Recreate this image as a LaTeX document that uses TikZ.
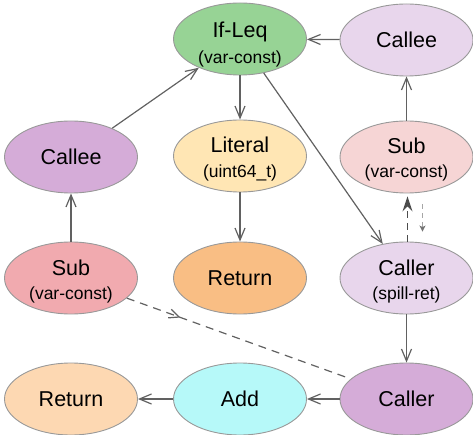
\documentclass[tikz,border=0pt]{standalone}
\usepackage{fontspec}
\setmainfont{Liberation Sans}
\usetikzlibrary{shapes.geometric,arrows.meta,decorations.markings}
\definecolor{cgreen}{HTML}{97D395}
\definecolor{clav}{HTML}{E8D6EC}
\definecolor{cpurp}{HTML}{D5ACD8}
\definecolor{cyell}{HTML}{FFE6B4}
\definecolor{cpinkl}{HTML}{F6D5D5}
\definecolor{cpink}{HTML}{F1AAAF}
\definecolor{corange}{HTML}{F9BE84}
\definecolor{cpeach}{HTML}{FDD8B2}
\definecolor{ccyan}{HTML}{B6F9F9}
\definecolor{cline}{HTML}{616161}
\definecolor{cbord}{HTML}{999999}
\begin{document}
\begin{tikzpicture}[x=1pt,y=-1pt,
  ell/.style={ellipse, draw=cbord, line width=0.9pt, minimum width=133pt, minimum height=72pt, inner sep=0pt, font=\fontsize{21.5}{25}\selectfont},
  lineA/.style={anchor=base, inner sep=0pt, font=\fontsize{21.5}{25}\selectfont},
  lineB/.style={anchor=base, inner sep=0pt, font=\fontsize{17.5}{21}\selectfont},
  edge/.style={draw=cline, line width=1.2pt, -{Straight Barb[length=12pt,width=10pt]}},
  dedge/.style={draw=cline, line width=1.2pt, dash pattern=on 8pt off 6pt}
]
\useasboundingbox (0,0) rectangle (473,435);
% row 1
\node[ell, fill=cgreen] (iflq) at (240,39) {};
\node[lineA] (iflqa) at (240,38) {If-Leq};
\node[lineB] (iflqb) at (240,64) {(var-const)};
\node[ell, fill=clav] (ctr) at (406.5,40) {Callee};
% row 2
\node[ell, fill=cpurp] (cl) at (71,157) {Callee};
\node[ell, fill=cyell] (lit) at (240,156) {};
\node[lineA] (lita) at (240,153) {Literal};
\node[lineB] (litb) at (240,178) {(uint64\_t)};
\node[ell, fill=cpinkl] (subr) at (406.5,157) {};
\node[lineA] (subra) at (406.5,154) {Sub};
\node[lineB] (subrb) at (406.5,178) {(var-const)};
% row 3
\node[ell, fill=cpink] (subl) at (71,278) {};
\node[lineA] (subla) at (71,275) {Sub};
\node[lineB] (sublb) at (71,299) {(var-const)};
\node[ell, fill=corange] (retm) at (240,278) {Return};
\node[ell, fill=clav] (csr) at (406.5,278) {};
\node[lineA] (csra) at (406.5,275) {Caller};
\node[lineB] (csrb) at (406.5,299) {(spill-ret)};
% row 4
\node[ell, fill=cpeach] (retb) at (71,399) {Return};
\node[ell, fill=ccyan] (add) at (240,399) {Add};
\node[ell, fill=cpurp] (cb) at (406.5,399) {Caller};
% edges
\draw[edge] (ctr) -- (iflq);
\draw[edge] (subr) -- (ctr);
\draw[edge] (cl) -- (iflq);
\draw[edge] (iflq) -- (lit);
\draw[edge] (iflq) -- (csr);
\draw[edge] (lit) -- (retm);
\draw[edge] (subl) -- (cl);
\draw[edge] (csr) -- (cb);
\draw[edge] (cb) -- (add);
\draw[edge] (add) -- (retb);
\draw[draw=black!70, line width=1.4pt, dash pattern=on 7pt off 5pt, -{Stealth[length=15pt,width=10pt,inset=5pt]}]
  ([xshift=1pt]csr.north) -- ([xshift=1pt,yshift=-3pt]subr.south);
\draw[draw=black!35, line width=1pt, dash pattern=on 5pt off 4pt, -{Stealth[length=6pt,width=6pt,inset=1.5pt,color=black!55]}]
  ([xshift=16pt,yshift=-11pt]subr.south) -- ([xshift=16pt,yshift=10pt]csr.north);
\draw[dedge, postaction={decorate}, decoration={markings, mark=at position 0.24 with {\arrow[line width=1.2pt,draw=cline]{Straight Barb[length=10pt,width=9pt]}}}]
  (subl) -- (cb);
\end{tikzpicture}
\end{document}
